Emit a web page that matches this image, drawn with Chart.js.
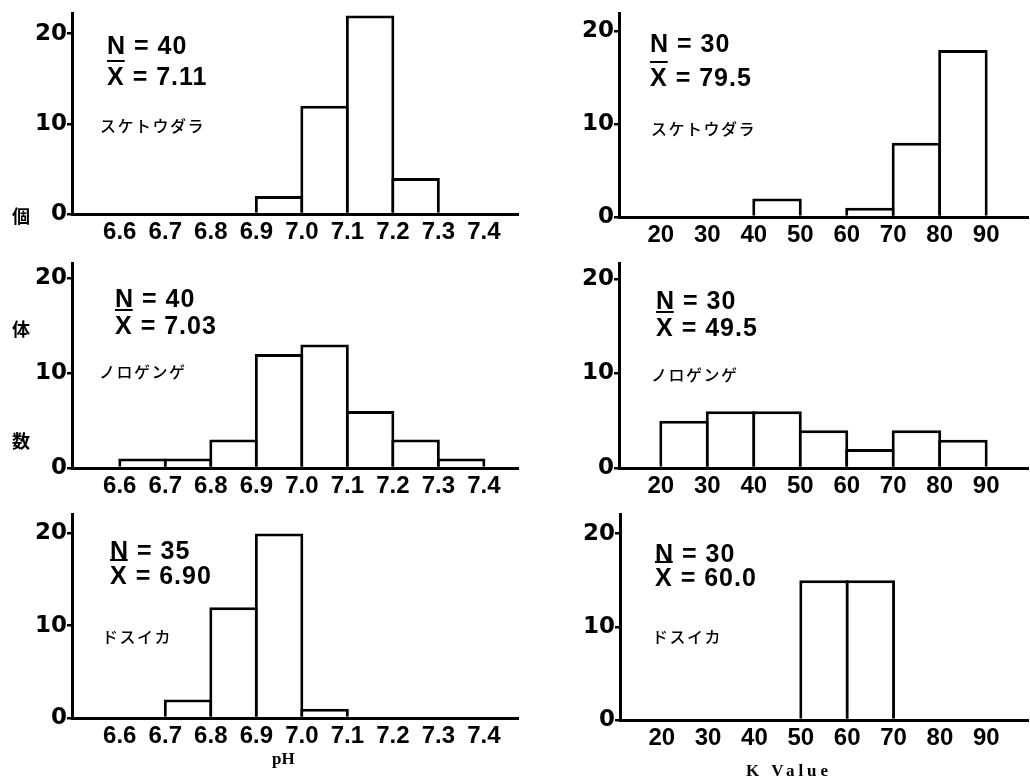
<!DOCTYPE html>
<html>
<head>
<meta charset="utf-8">
<script src="https://cdn.jsdelivr.net/npm/chart.js@4.4.0/dist/chart.umd.min.js"></script>
<style>
  body { margin: 0; background: #fff; }
  #page { position: relative; width: 1030px; height: 779px; overflow: hidden; background: #fff; }
  canvas { position: absolute; }
  .note { position: absolute; font-family: 'Liberation Sans', Arial, sans-serif; font-weight: bold; font-size: 25px; letter-spacing: 1px; line-height: 1; white-space: pre; color: #000; }
  .bar-x { text-decoration: overline; }
  .fish { position: absolute; font-family: 'Noto Sans CJK JP', sans-serif; font-weight: 500; font-size: 16px; letter-spacing: 1.5px; line-height: 1; color: #000; }
  .side { position: absolute; font-family: 'Noto Sans CJK JP', sans-serif; font-weight: bold; font-size: 18px; line-height: 1; color: #000; }
  .axis-title { position: absolute; font-family: 'Liberation Serif', 'Times New Roman', serif; font-weight: bold; font-size: 17px; line-height: 1; color: #000; }
</style>
</head>
<body>
<div id="page"></div>
<script>
// bin edges (also the tick labels)
const phBins = [6.6, 6.7, 6.8, 6.9, 7.0, 7.1, 7.2, 7.3, 7.4]
const kBins = [20, 30, 40, 50, 60, 70, 80, 90]
const yTicks = [0, 10, 20]

// counts per bin
const phSuketoudara = [0, 0, 0, 2, 12, 22, 4, 0]
const phNorogenge = [1, 1, 3, 12, 13, 6, 3, 1]
const phDosuika = [0, 2, 12, 20, 1, 0, 0, 0]
const kSuketoudara = [0, 0, 2, 0, 1, 8, 18]
const kNorogenge = [5, 6, 6, 4, 2, 4, 3]
const kDosuika = [0, 0, 0, 15, 15, 0, 0]

const species = ['スケトウダラ', 'ノロゲンゲ', 'ドスイカ']
const phN = [40, 40, 35]
const phMean = ['7.11', '7.03', '6.90']
const kN = [30, 30, 30]
const kMean = ['79.5', '49.5', '60.0']

const page = document.getElementById('page')

const phFmt = v => v.toFixed(1)
const kFmt = v => String(v)

const panels = [
  { left: 0, top: 0, w: 520, h: 250, yW: 72, xH: 36, padTop: 7, yMax: 22.2, bins: phBins, counts: phSuketoudara, xMin: 6.495, xMax: 7.475, fmt: phFmt,
    n: phN[0], mean: phMean[0], name: species[0], nAt: [107, 33], mAt: [107, 64], nameAt: [100, 117] },
  { left: 520, top: 0, w: 510, h: 250, yW: 99, xH: 33, padTop: 10, yMax: 21.9, bins: kBins, counts: kSuketoudara, xMin: 11, xMax: 99, fmt: kFmt,
    n: kN[0], mean: kMean[0], name: species[0], nAt: [650, 31], mAt: [650, 65], nameAt: [651, 120] },
  { left: 0, top: 250, w: 520, h: 250, yW: 72, xH: 32, padTop: 13, yMax: 21.5, bins: phBins, counts: phNorogenge, xMin: 6.495, xMax: 7.475, fmt: phFmt,
    n: phN[1], mean: phMean[1], name: species[1], nAt: [115, 286], mAt: [115, 313], nameAt: [99, 363] },
  { left: 520, top: 250, w: 510, h: 250, yW: 99, xH: 32, padTop: 13, yMax: 21.6, bins: kBins, counts: kNorogenge, xMin: 11, xMax: 99, fmt: kFmt,
    n: kN[1], mean: kMean[1], name: species[1], nAt: [656, 288], mAt: [656, 315], nameAt: [651, 366] },
  { left: 0, top: 500, w: 520, h: 279, yW: 72, xH: 61, padTop: 14, yMax: 22.1, bins: phBins, counts: phDosuika, xMin: 6.495, xMax: 7.475, fmt: phFmt,
    n: phN[2], mean: phMean[2], name: species[2], nAt: [110, 538], mAt: [110, 563], nameAt: [102, 628] },
  { left: 520, top: 500, w: 510, h: 279, yW: 100, xH: 59, padTop: 14, yMax: 22.1, bins: kBins, counts: kDosuika, xMin: 11, xMax: 99, fmt: kFmt,
    n: kN[2], mean: kMean[2], name: species[2], nAt: [655, 541], mAt: [655, 565], nameAt: [652, 628] }
]

function addDiv(cls, html, x, y) {
  const d = document.createElement('div')
  d.className = cls
  d.innerHTML = html
  d.style.left = x + 'px'
  d.style.top = y + 'px'
  page.appendChild(d)
  return d
}

function makePanel(p) {
  const canvas = document.createElement('canvas')
  canvas.width = p.w
  canvas.height = p.h
  canvas.style.left = p.left + 'px'
  canvas.style.top = p.top + 'px'
  page.appendChild(canvas)

  // bars sit on bin centres, spanning edge to edge
  const points = p.counts.map((c, i) => ({ x: (p.bins[i] + p.bins[i + 1]) / 2, y: c }))

  new Chart(canvas, {
    type: 'bar',
    data: {
      datasets: [{
        data: points,
        backgroundColor: '#fff',
        borderColor: '#000',
        borderWidth: 3,
        barPercentage: 1.065,
        categoryPercentage: 1
      }]
    },
    options: {
      responsive: false,
      animation: false,
      events: [],
      layout: { padding: { top: p.padTop, right: 2, left: 0, bottom: 0 } },
      plugins: { legend: { display: false }, tooltip: { enabled: false } },
      scales: {
        x: {
          type: 'linear',
          offset: false,
          min: p.xMin,
          max: p.xMax,
          afterBuildTicks: s => { s.ticks = p.bins.map(v => ({ value: v })) },
          afterFit: s => { s.height = p.xH },
          grid: { display: false, drawTicks: false, offset: false },
          border: { color: '#000', width: 3 },
          ticks: {
            padding: 4,
            color: '#000',
            autoSkip: false,
            maxRotation: 0,
            font: { family: "'Liberation Sans', Arial, sans-serif", weight: 'bold', size: 24 },
            callback: v => p.fmt(v)
          }
        },
        y: {
          min: 0,
          max: p.yMax,
          afterBuildTicks: s => { s.ticks = yTicks.map(v => ({ value: v })) },
          afterFit: s => { s.width = p.yW },
          grid: { drawOnChartArea: false, drawTicks: true, tickLength: 5, color: '#000', lineWidth: 2.5 },
          border: { color: '#000', width: 3 },
          ticks: {
            padding: 0,
            color: '#000',
            font: { family: "'DejaVu Sans', sans-serif", weight: 'bold', size: 23 }
          }
        }
      }
    }
  })

  addDiv('note', 'N = ' + p.n, p.nAt[0], p.nAt[1])
  addDiv('note', '<span class="bar-x">X</span> = ' + p.mean, p.mAt[0], p.mAt[1])
  addDiv('fish', p.name, p.nameAt[0], p.nameAt[1])
}

panels.forEach(makePanel)

// vertical y label 個体数 and axis titles
addDiv('side', '個', 12, 206)
addDiv('side', '体', 12, 319)
addDiv('side', '数', 12, 431)
addDiv('axis-title', 'pH', 272, 750)
const kt = addDiv('axis-title', 'K Value', 746, 762)
kt.style.letterSpacing = '4px'
</script>
</body>
</html>
